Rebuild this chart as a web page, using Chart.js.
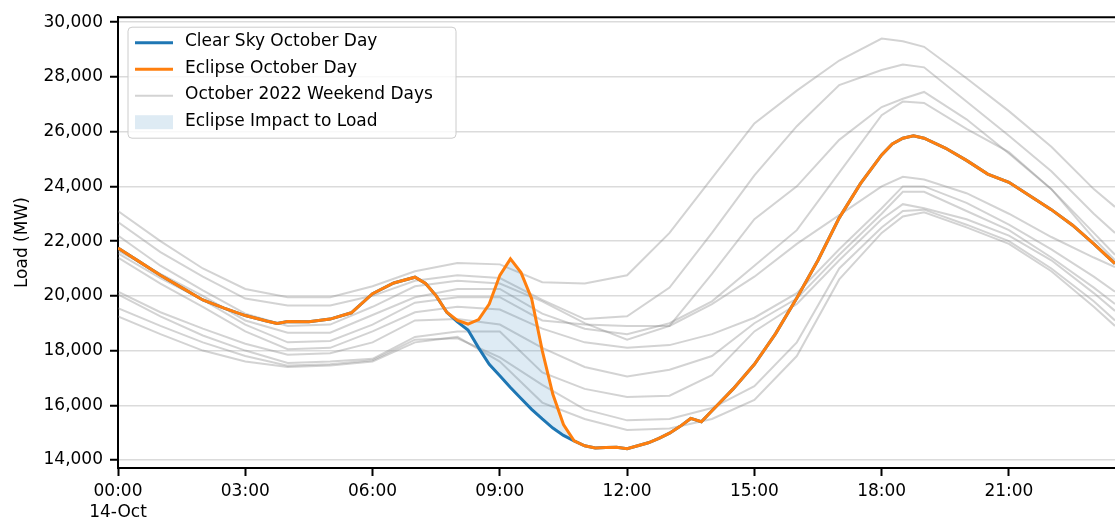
<!DOCTYPE html>
<html lang="en">
<head>
<meta charset="UTF-8">
<title>Eclipse October Day Load</title>
<script src="https://cdn.jsdelivr.net/npm/chart.js@4.4.1/dist/chart.umd.min.js"></script>
<style>
    html, body { margin: 0; padding: 0; background: #ffffff; overflow: hidden; }
    .chart-wrapper { position: relative; width: 1115px; height: 521px; }
</style>
</head>
<body>
<div class="chart-wrapper">
    <canvas id="loadChart" width="1115" height="521"></canvas>
</div>
<script>
// --- DATA (hours after midnight, load in MW) ---
const dayHours = [0, 0.5, 1, 1.5, 2, 2.5, 3, 3.5, 3.75, 4, 4.5, 5, 5.5, 6, 6.5, 7,
    7.25, 7.5, 7.75, 8, 8.25, 8.5, 8.75, 9, 9.25, 9.5, 9.75, 10, 10.25, 10.5, 10.75, 11,
    11.25, 11.5, 11.75, 12, 12.25, 12.5, 12.75, 13, 13.25, 13.5, 13.75, 14, 14.5, 15, 15.5, 16,
    16.5, 17, 17.5, 18, 18.25, 18.5, 18.75, 19, 19.5, 20, 20.5, 21, 21.5, 22, 22.5, 23, 23.5];

const eclipseLoad = [21750, 21250, 20750, 20300, 19850, 19550, 19280, 19080, 18990, 19060, 19050, 19150, 19380, 20080, 20470, 20680,
    20450, 20000, 19400, 19100, 18970, 19130, 19700, 20750, 21350, 20850, 19900, 18000, 16400, 15300, 14700, 14520,
    14440, 14460, 14470, 14410, 14520, 14630, 14790, 14980, 15230, 15520, 15400, 15800, 16600, 17500, 18620, 19920,
    21300, 22850, 24100, 25150, 25550, 25760, 25850, 25760, 25400, 24950, 24450, 24150, 23650, 23150, 22580, 21900, 21180];

const clearSkyLoad = [21750, 21250, 20750, 20300, 19850, 19550, 19280, 19080, 18990, 19060, 19050, 19150, 19380, 20080, 20470, 20680,
    20450, 20000, 19400, 19050, 18750, 18100, 17500, 17080, 16650, 16250, 15850, 15500, 15170, 14900, 14700, 14520,
    14440, 14460, 14470, 14410, 14520, 14630, 14790, 14980, 15230, 15520, 15400, 15800, 16600, 17500, 18620, 19920,
    21300, 22850, 24100, 25150, 25550, 25760, 25850, 25760, 25400, 24950, 24450, 24150, 23650, 23150, 22580, 21900, 21180];

// October 2022 weekend days (Saturdays and Sundays)
const weekendHours = [0, 1, 2, 3, 4, 5, 6, 7, 8, 9, 10, 11, 12, 13, 14, 15, 16, 17, 18, 18.5, 19, 20, 21, 22, 23, 23.5];
const weekendDay1  = [23100, 22000, 21000, 20250, 19950, 19950, 20350, 20900, 21200, 21150, 20500, 20450, 20750, 22300, 24300, 26300, 27500, 28600, 29400, 29300, 29100, 27950, 26750, 25450, 23900, 23250];
const weekendDay2  = [22700, 21600, 20700, 19900, 19650, 19650, 20000, 20550, 20750, 20650, 19850, 19150, 19250, 20300, 22300, 24400, 26200, 27700, 28250, 28450, 28350, 27100, 25850, 24550, 23000, 22300];
const weekendDay3  = [22200, 21100, 20200, 19350, 18900, 18950, 19600, 20350, 20550, 20450, 19800, 19000, 18400, 18900, 20800, 22800, 24000, 25700, 26900, 27200, 27450, 26450, 25200, 23900, 22100, 21300];
const weekendDay4  = [21650, 20800, 20000, 19100, 18650, 18650, 19300, 19950, 20250, 20250, 19350, 18800, 18600, 19000, 19800, 21100, 22400, 24500, 26600, 27100, 27050, 26100, 25250, 23900, 22300, 21500];
const weekendDay5  = [21550, 20650, 19850, 18950, 18300, 18350, 18950, 19750, 19950, 19950, 19100, 18950, 18900, 18900, 19700, 20700, 21900, 22950, 24000, 24350, 24250, 23750, 23000, 22150, 21400, 21050];
const weekendDay6  = [21400, 20450, 19600, 18700, 18050, 18100, 18700, 19400, 19600, 19500, 18800, 18300, 18100, 18200, 18600, 19200, 20100, 21700, 23200, 24000, 24000, 23400, 22600, 21700, 20700, 20150];
const weekendDay7  = [20150, 19400, 18800, 18250, 17850, 17900, 18300, 19100, 19150, 18950, 18100, 17400, 17050, 17300, 17800, 19000, 19900, 21500, 23000, 23800, 23800, 23100, 22400, 21400, 20300, 19700];
const weekendDay8  = [20050, 19250, 18550, 18000, 17550, 17600, 17700, 18500, 18700, 18700, 17200, 16600, 16300, 16350, 17100, 18700, 19700, 21300, 22800, 23350, 23200, 22800, 22200, 21300, 20100, 19450];
const weekendDay9  = [19550, 18900, 18300, 17800, 17450, 17500, 17650, 18400, 18450, 17750, 16750, 15850, 15450, 15500, 15900, 16700, 18300, 21000, 22500, 23100, 23150, 22600, 22000, 21000, 19800, 19100];
const weekendDay10 = [19250, 18600, 18000, 17600, 17400, 17450, 17600, 18300, 18500, 17600, 16100, 15500, 15100, 15150, 15500, 16200, 17800, 20600, 22300, 22900, 23050, 22500, 21900, 20900, 19600, 18900];
const weekendDays = [weekendDay1, weekendDay2, weekendDay3, weekendDay4, weekendDay5,
    weekendDay6, weekendDay7, weekendDay8, weekendDay9, weekendDay10];

const hourTicks = [0, 3, 6, 9, 12, 15, 18, 21];
const loadTicks = [14000, 16000, 18000, 20000, 22000, 24000, 26000, 28000, 30000];
const dateLabel = '14-Oct';

// --- STYLE ---
const clearSkyColor = '#1f77b4';
const eclipseColor = '#ff7f0e';
const weekendColor = 'rgba(128, 128, 128, 0.35)';
const impactColor = 'rgba(31, 119, 180, 0.15)';
const fontFamily = '"DejaVu Sans", "Liberation Sans", sans-serif';

const legendItems = [
    { label: 'Clear Sky October Day', kind: 'line', color: clearSkyColor, width: 3 },
    { label: 'Eclipse October Day', kind: 'line', color: eclipseColor, width: 3 },
    { label: 'October 2022 Weekend Days', kind: 'line', color: weekendColor, width: 2 },
    { label: 'Eclipse Impact to Load', kind: 'patch', color: impactColor }
];

const toPoints = (xs, ys) => xs.map((x, i) => ({ x: x, y: ys[i] }));

const datasets = [
    {
        label: 'Eclipse October Day',
        data: toPoints(dayHours, eclipseLoad),
        borderColor: eclipseColor,
        borderWidth: 3,
        pointRadius: 0,
        fill: { target: 1, above: impactColor, below: 'rgba(0,0,0,0)' }
    },
    {
        label: 'Clear Sky October Day',
        data: toPoints(dayHours, clearSkyLoad),
        borderColor: clearSkyColor,
        borderWidth: 3,
        pointRadius: 0,
        fill: false
    }
];
weekendDays.forEach((day, i) => {
    datasets.push({
        label: 'October 2022 Weekend Day ' + (i + 1),
        data: toPoints(weekendHours, day),
        borderColor: weekendColor,
        borderWidth: 2,
        pointRadius: 0,
        fill: false
    });
});

// legend inside the plot plus the top spine, matplotlib style
const insideLegend = {
    id: 'insideLegend',
    afterDraw(chart) {
        const { ctx, chartArea } = chart;
        const x0 = chartArea.left + 10, y0 = chartArea.top + 10;
        const w = 328, h = 111, r = 4, rowH = 26.5;

        ctx.save();
        // top spine
        ctx.strokeStyle = '#000';
        ctx.lineWidth = 2;
        ctx.beginPath();
        ctx.moveTo(chartArea.left - 1, chartArea.top);
        ctx.lineTo(chartArea.right, chartArea.top);
        ctx.stroke();

        // frame
        ctx.beginPath();
        ctx.moveTo(x0 + r, y0);
        ctx.arcTo(x0 + w, y0, x0 + w, y0 + h, r);
        ctx.arcTo(x0 + w, y0 + h, x0, y0 + h, r);
        ctx.arcTo(x0, y0 + h, x0, y0, r);
        ctx.arcTo(x0, y0, x0 + w, y0, r);
        ctx.closePath();
        ctx.fillStyle = 'rgba(255, 255, 255, 0.8)';
        ctx.fill();
        ctx.strokeStyle = '#cccccc';
        ctx.lineWidth = 1;
        ctx.stroke();

        ctx.font = '17px ' + fontFamily;
        ctx.textBaseline = 'middle';
        legendItems.forEach((item, i) => {
            const cy = y0 + 14.5 + i * rowH;
            if (item.kind === 'line') {
                ctx.strokeStyle = item.color;
                ctx.lineWidth = item.width;
                ctx.beginPath();
                ctx.moveTo(x0 + 7, cy + 1);
                ctx.lineTo(x0 + 45, cy + 1);
                ctx.stroke();
            } else {
                ctx.fillStyle = item.color;
                ctx.fillRect(x0 + 7, cy - 6, 38, 14);
            }
            ctx.fillStyle = '#000';
            ctx.fillText(item.label, x0 + 57, cy);
        });
        ctx.restore();
    }
};

Chart.defaults.font.family = fontFamily;
Chart.defaults.font.size = 17;
Chart.defaults.color = '#000';

new Chart(document.getElementById('loadChart'), {
    type: 'line',
    data: { datasets: datasets },
    options: {
        responsive: false,
        animation: false,
        events: [],
        layout: { padding: { top: 15, left: 0, right: 0, bottom: 0 } },
        elements: { line: { tension: 0 } },
        plugins: {
            legend: { display: false },
            tooltip: { enabled: false }
        },
        scales: {
            x: {
                type: 'linear',
                min: 0,
                max: 23.5,
                afterBuildTicks: scale => { scale.ticks = hourTicks.map(v => ({ value: v })); },
                afterFit: scale => { scale.height = 53; },
                ticks: {
                    maxRotation: 0,
                    padding: 5,
                    font: { size: 17, lineHeight: 1.25 },
                    callback: value => {
                        const label = String(value).padStart(2, '0') + ':00';
                        return value === 0 ? [label, dateLabel] : label;
                    }
                },
                grid: {
                    drawOnChartArea: false,
                    tickColor: '#000',
                    tickLength: 8,
                    tickWidth: 2
                },
                border: { color: '#000', width: 2 }
            },
            y: {
                min: 13709,
                max: 30182,
                afterBuildTicks: scale => { scale.ticks = loadTicks.map(v => ({ value: v })); },
                afterFit: scale => { scale.width = 118; },
                title: {
                    display: true,
                    text: 'Load (MW)',
                    font: { size: 17 },
                    padding: { top: 12, bottom: 0 }
                },
                ticks: {
                    padding: 7,
                    callback: value => value.toLocaleString('en-US')
                },
                grid: {
                    color: 'rgba(0, 0, 0, 0.14)',
                    lineWidth: 1.5,
                    tickColor: '#000',
                    tickLength: 8,
                    tickWidth: 2
                },
                border: { color: '#000', width: 2 }
            }
        }
    },
    plugins: [insideLegend]
});
</script>
</body>
</html>
